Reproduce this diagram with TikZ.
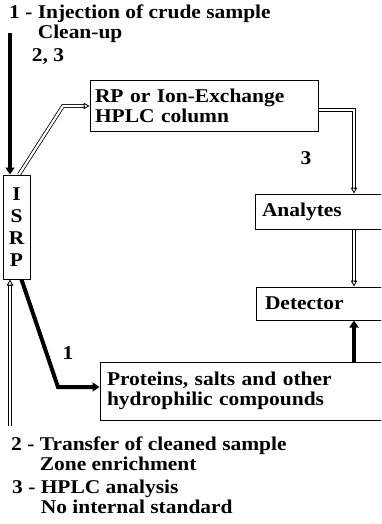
\documentclass[tikz,border=0pt]{standalone}
\usepackage{fontspec}
\setmainfont{Liberation Serif}[FakeStretch=1.1]
\usetikzlibrary{arrows.meta,calc}
\begin{document}
\begin{tikzpicture}[x=1pt,y=-1pt,
  txt/.style={font=\bfseries\fontsize{19.5}{20}\selectfont},
  box/.style={draw,line width=1pt,rectangle,inner sep=0pt,align=left,txt},
  lbl/.style={inner sep=0pt,txt},
  heavy/.style={line width=4pt,line join=miter,-{Triangle[length=7pt,width=9pt]}},
  dbl/.style={double,double distance=2.2pt,line width=0.8pt},
  hollow/.style={-{Triangle[open,length=6pt,width=6.5pt,line width=0.8pt]}}
]
\clip (0,0) rectangle (381,524);
% boxes
\node[box,minimum width=27pt,minimum height=104pt,align=center,font=\bfseries\fontsize{19.5}{22}\selectfont] (isrp) at (16.5,227) {I\\S\\R\\P};
\node[box,minimum width=228pt,minimum height=50pt,text width=218pt] (rp) at (204,106) {RP or Ion-Exchange\\HPLC column};
\node[box,minimum width=140pt,minimum height=35pt,text width=126pt] (analytes) at (325,211.5) {Analytes};
\node[box,minimum width=139pt,minimum height=33pt,text width=121pt] (detector) at (325.5,303.5) {Detector};
\node[box,minimum width=295pt,minimum height=58pt,text width=281pt] (proteins) at (247.5,391) {Proteins, salts and other\\hydrophilic compounds};
% texts
\node[lbl,anchor=base west,align=left] (head) at (9,19) {1 - \begin{tabular}[t]{@{}l@{}}Injection of crude sample\\Clean-up\end{tabular}};
\node[lbl] (l23) at (48,57) {2, 3};
\node[lbl] (l3) at (306,158) {3};
\node[lbl] (l1) at (68,353) {1};
\node[lbl,anchor=base west,align=left] (foot2) at (11,450) {2 - \begin{tabular}[t]{@{}l@{}}Transfer of cleaned sample\\Zone enrichment\end{tabular}};
\node[lbl,anchor=base west,align=left] (foot3) at (12,493) {3 - \begin{tabular}[t]{@{}l@{}}HPLC analysis\\No internal standard\end{tabular}};
% coordinates
\coordinate (inj) at (10,33);
\coordinate (k1) at (63,106);
\coordinate (k2) at (354,110);
\coordinate (k3) at (58,387);
\coordinate (b0) at (10,426);
% connectors
\draw[heavy] (inj) -- (inj |- isrp.north);
\draw[dbl] ($(isrp.north)+(2.5,0)$) -- (k1) -- ($(k1 -| rp.west)+(-5,0)$);
\draw[hollow] ($(k1 -| rp.west)+(-6,0)$) -- (k1 -| rp.west);
\draw[dbl] ($(rp.east)+(0,4)$) -- (k2) -- ($(k2 |- analytes.north)+(0,-5)$);
\draw[hollow] ($(k2 |- analytes.north)+(0,-6)$) -- (k2 |- analytes.north);
\draw[dbl] (k2 |- analytes.south) -- ($(k2 |- detector.north)+(0,-5)$);
\draw[hollow] ($(k2 |- detector.north)+(0,-6)$) -- (k2 |- detector.north);
\draw[heavy] (k2 |- proteins.north) -- (k2 |- detector.south);
\draw[heavy] ($(isrp.south)+(5,0)$) -- (k3) -- (k3 -| proteins.west);
\draw[dbl] (b0) -- ($(b0 |- isrp.south)+(0,5)$);
\draw[hollow] ($(b0 |- isrp.south)+(0,6)$) -- (b0 |- isrp.south);
\end{tikzpicture}
\end{document}
